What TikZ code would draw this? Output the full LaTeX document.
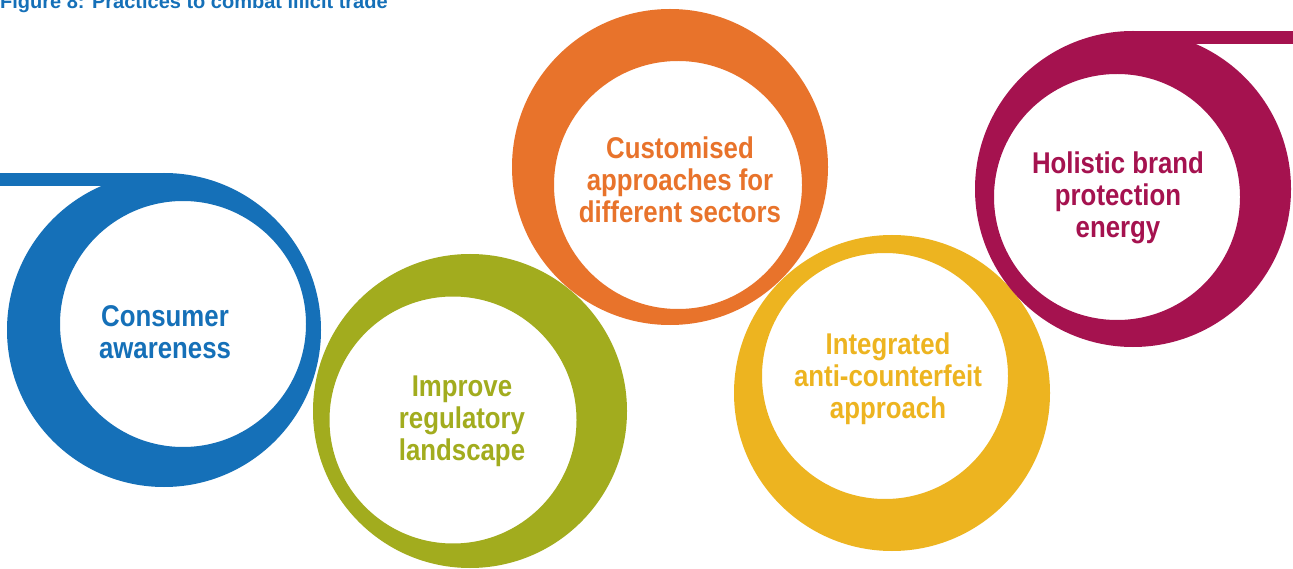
\documentclass[tikz,border=0pt]{standalone}
\usepackage{fontspec}
\setmainfont{Liberation Sans}[FakeStretch=0.86]
\newfontfamily\titlefont{Liberation Sans}
\usepackage{xcolor}
\usepackage{tikz}
\definecolor{ringblue}{HTML}{1570B8}
\definecolor{ringgreen}{HTML}{A2AC1E}
\definecolor{ringorange}{HTML}{E8732B}
\definecolor{ringyellow}{HTML}{EDB420}
\definecolor{ringmagenta}{HTML}{A5124F}

\begin{document}
\begin{tikzpicture}[x=1pt,y=-1pt,
    ringtext/.style={font=\bfseries\fontsize{30}{32}\selectfont, align=center}]
    \useasboundingbox (0,0) rectangle (1293,569);
    \clip (0,0) rectangle (1293,569);
    \fill[white] (0,0) rectangle (1293,569);

    % Title, cut at the top
    \node[anchor=base west, inner sep=0pt, text=ringblue, font=\titlefont\bfseries\fontsize{20}{22}\selectfont] (title) at (0,9) {Figure 8: Practices to combat illicit trade};

    % Rings (outer circle minus shifted inner circle)
    \fill[ringblue] (0,173) rectangle (164,186);
    \fill[ringblue, even odd rule] (164,330) circle (157pt) (183,324) circle (123pt);
    \fill[ringgreen, even odd rule] (470,411) circle (157pt) (453,420) circle (123.5pt);
    \fill[ringorange, even odd rule] (670,167) circle (158pt) (678,185) circle (124pt);
    \fill[ringyellow, even odd rule] (892,393) circle (158pt) (885,376) circle (123pt);
    \fill[ringmagenta] (1133,31) rectangle (1293,44);
    \fill[ringmagenta, even odd rule] (1133,189) circle (158pt) (1117,197) circle (123pt);

    % Labels
    \node[ringtext, text=ringblue] (consumer) at (165,332) {Consumer\\awareness};
    \node[ringtext, text=ringgreen] (regulatory) at (462,421) {Improve\\regulatory\\landscape};
    \node[ringtext, text=ringorange] (sectors) at (680,180) {Customised\\approaches for\\different sectors};
    \node[ringtext, text=ringyellow] (counterfeit) at (888,379) {Integrated\\anti-counterfeit\\approach};
    \node[ringtext, text=ringmagenta] (holistic) at (1118,198) {Holistic brand\\protection\\energy};
\end{tikzpicture}
\end{document}
